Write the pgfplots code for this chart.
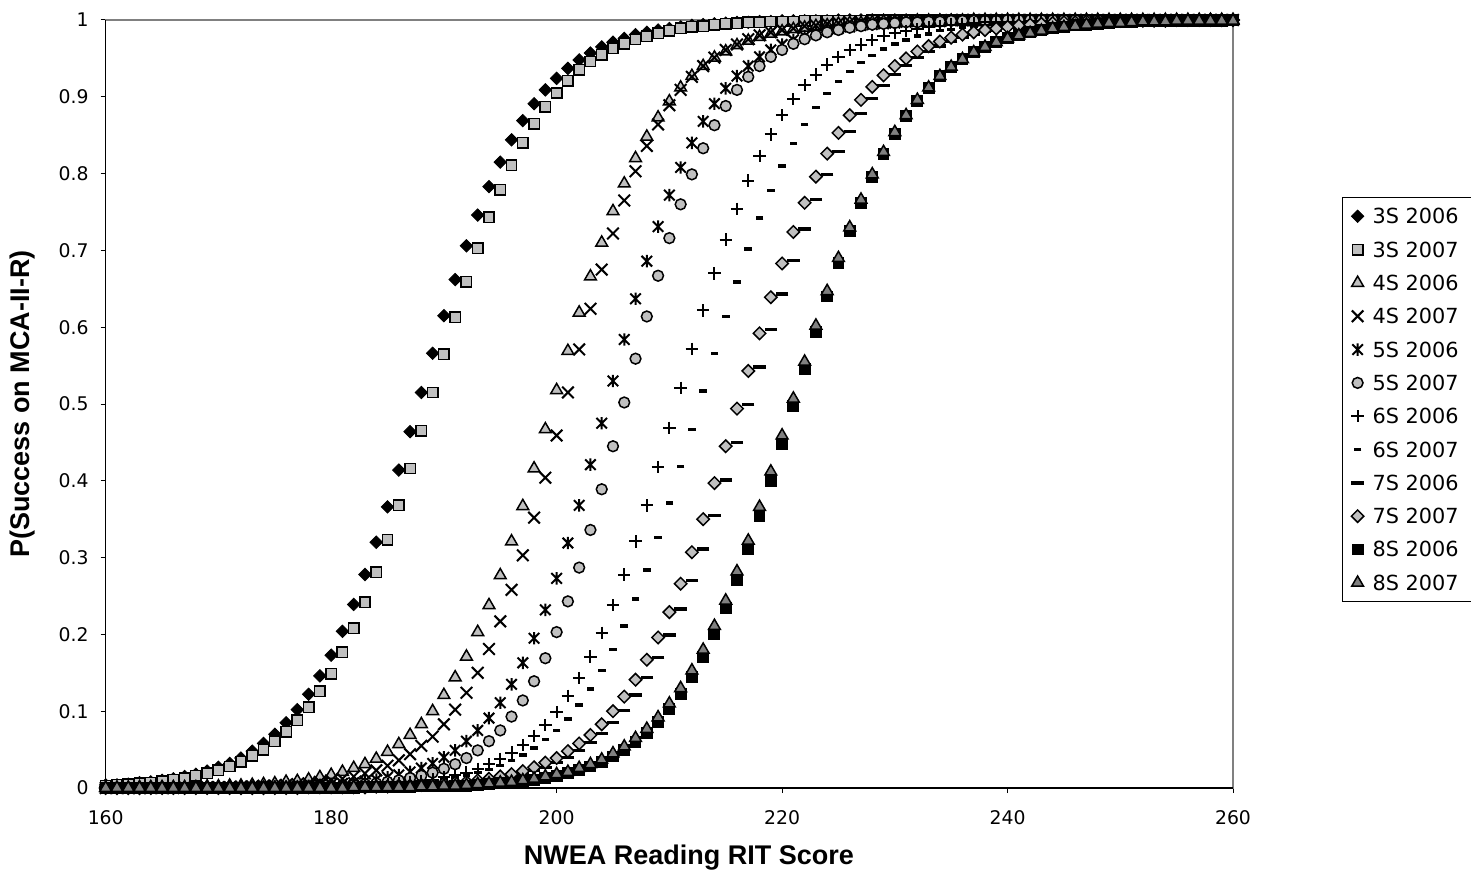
\documentclass[border=0pt]{standalone}
\usepackage{pgfplots}
\usepackage{pgfplotstable}
\pgfplotsset{compat=1.18}
\usepackage{fontspec}
\setmainfont{DejaVu Sans}
\newfontfamily\arialfont{Liberation Sans}
\definecolor{silv}{HTML}{C0C0C0}
\definecolor{dgray}{HTML}{808080}
\pgfdeclareplotmark{xast}{%
 \pgfpathmoveto{\pgfqpoint{0pt}{\pgfplotmarksize}}\pgfpathlineto{\pgfqpoint{0pt}{-\pgfplotmarksize}}%
 \pgfpathmoveto{\pgfqpoint{-.85\pgfplotmarksize}{.85\pgfplotmarksize}}\pgfpathlineto{\pgfqpoint{.85\pgfplotmarksize}{-.85\pgfplotmarksize}}%
 \pgfpathmoveto{\pgfqpoint{-.85\pgfplotmarksize}{-.85\pgfplotmarksize}}\pgfpathlineto{\pgfqpoint{.85\pgfplotmarksize}{.85\pgfplotmarksize}}%
 \pgfusepathqstroke}
\pgfplotstableread{
x s1 s2 s3 s4 s5 s6 s7 s8 s9 s10 s11 s12
160 .004 .003 0 0 0 0 0 0 0 0 0 0
161 .004 .004 0 0 0 0 0 0 0 0 0 0
162 .005 .005 0 0 0 0 0 0 0 0 0 0
163 .007 .006 .001 0 0 0 0 0 0 0 0 0
164 .008 .007 .001 0 0 0 0 0 0 0 0 0
165 .010 .009 .001 0 0 0 0 0 0 0 0 0
166 .012 .011 .001 0 0 0 0 0 0 0 0 0
167 .015 .013 .001 .001 0 0 0 0 0 0 0 0
168 .018 .016 .001 .001 0 0 0 0 0 0 0 0
169 .022 .019 .002 .001 0 0 0 0 0 0 0 0
170 .027 .023 .002 .001 .001 0 0 0 0 0 0 0
171 .032 .028 .003 .001 .001 0 0 0 0 0 0 0
172 .039 .034 .003 .002 .001 0 0 0 0 0 0 0
173 .048 .042 .004 .002 .001 .001 0 0 0 0 0 0
174 .058 .050 .005 .003 .001 .001 0 0 0 0 0 0
175 .070 .061 .006 .003 .002 .001 .001 .001 0 0 0 0
176 .085 .073 .008 .004 .002 .001 .001 .001 0 0 0 0
177 .102 .088 .009 .005 .002 .001 .001 .001 0 0 0 0
178 .122 .105 .011 .006 .003 .002 .001 .001 0 .001 0 0
179 .146 .126 .014 .008 .004 .002 .001 .001 .001 .001 0 0
180 .173 .149 .017 .010 .005 .003 .002 .002 .001 .001 0 0
181 .204 .177 .021 .012 .006 .003 .002 .002 .001 .001 0 0
182 .239 .208 .026 .015 .007 .004 .003 .002 .001 .001 0 .001
183 .278 .242 .031 .019 .009 .005 .003 .003 .001 .001 .001 .001
184 .320 .281 .038 .023 .011 .006 .004 .003 .001 .002 .001 .001
185 .366 .323 .047 .029 .014 .008 .005 .004 .002 .002 .001 .001
186 .414 .368 .057 .036 .017 .010 .006 .005 .002 .003 .001 .001
187 .464 .416 .069 .044 .021 .013 .007 .006 .003 .003 .001 .001
188 .515 .465 .083 .055 .026 .016 .009 .008 .003 .004 .002 .002
189 .566 .515 .100 .067 .032 .020 .011 .009 .004 .005 .002 .002
190 .615 .565 .121 .083 .040 .025 .014 .011 .005 .006 .002 .003
191 .662 .613 .144 .102 .049 .031 .017 .014 .006 .007 .003 .003
192 .706 .659 .171 .124 .061 .039 .020 .016 .007 .008 .003 .004
193 .746 .703 .203 .150 .075 .049 .025 .020 .009 .010 .004 .005
194 .783 .743 .238 .181 .091 .061 .031 .024 .010 .012 .005 .006
195 .815 .779 .277 .217 .111 .075 .038 .029 .013 .015 .006 .007
196 .844 .811 .321 .258 .135 .093 .046 .036 .015 .018 .007 .008
197 .869 .840 .367 .303 .163 .114 .056 .043 .019 .022 .009 .010
198 .891 .865 .416 .352 .195 .139 .068 .052 .023 .027 .011 .012
199 .909 .887 .467 .404 .232 .169 .082 .063 .027 .033 .013 .015
200 .924 .905 .518 .459 .273 .203 .099 .075 .033 .039 .016 .018
201 .937 .921 .569 .515 .319 .243 .120 .090 .040 .048 .019 .021
202 .948 .935 .619 .571 .368 .287 .143 .108 .049 .058 .023 .026
203 .957 .946 .666 .624 .421 .336 .171 .129 .059 .069 .028 .031
204 .965 .955 .710 .675 .475 .389 .202 .153 .071 .083 .034 .037
205 .971 .963 .751 .722 .530 .445 .238 .180 .085 .100 .041 .045
206 .976 .969 .787 .765 .584 .502 .278 .211 .101 .119 .050 .054
207 .981 .975 .820 .803 .637 .559 .321 .246 .121 .141 .060 .065
208 .984 .979 .848 .836 .686 .614 .368 .284 .144 .167 .072 .077
209 .987 .983 .873 .864 .731 .667 .418 .326 .170 .196 .086 .092
210 .989 .986 .894 .889 .772 .716 .469 .371 .199 .229 .103 .110
211 .991 .989 .912 .909 .808 .760 .521 .419 .233 .266 .122 .130
212 .993 .991 .927 .926 .840 .799 .572 .467 .270 .307 .145 .153
213 .994 .992 .940 .940 .868 .833 .622 .517 .311 .350 .171 .180
214 .995 .994 .951 .951 .891 .863 .670 .566 .355 .397 .200 .211
215 .996 .995 .959 .961 .911 .888 .714 .614 .401 .445 .234 .244
216 .997 .996 .967 .968 .927 .909 .754 .659 .450 .494 .271 .282
217 .997 .997 .973 .975 .940 .926 .791 .702 .499 .543 .311 .322
218 .998 .997 .978 .980 .952 .940 .823 .742 .548 .592 .354 .366
219 .998 .998 .982 .984 .961 .952 .851 .778 .597 .639 .400 .412
220 .999 .998 .985 .987 .968 .961 .876 .810 .643 .683 .448 .459
221 .999 .998 .988 .989 .974 .969 .897 .839 .687 .724 .497 .507
222 .999 .999 .990 .992 .979 .975 .915 .864 .728 .762 .546 .555
223 .999 .999 .992 .993 .983 .980 .929 .886 .766 .796 .594 .602
224 .999 .999 .993 .995 .987 .984 .942 .904 .799 .826 .640 .647
225 1 .999 .995 .996 .989 .987 .952 .920 .829 .853 .684 .690
226 1 .999 .996 .997 .991 .990 .961 .933 .855 .876 .725 .730
227 1 .999 .996 .997 .993 .992 .968 .945 .878 .896 .762 .766
228 1 1 .997 .998 .994 .994 .974 .954 .898 .913 .796 .799
229 1 1 .998 .998 .995 .995 .979 .962 .915 .928 .826 .828
230 1 1 .998 .999 .996 .996 .983 .969 .929 .940 .852 .854
231 1 1 .998 .999 .997 .997 .986 .974 .941 .950 .875 .876
232 1 1 .999 .999 .998 .997 .988 .979 .951 .959 .895 .896
233 1 1 .999 .999 .998 .998 .991 .982 .959 .966 .912 .912
234 1 1 .999 .999 .998 .998 .992 .986 .966 .972 .927 .927
235 1 1 .999 1 .999 .999 .994 .988 .972 .977 .939 .939
236 1 1 .999 1 .999 .999 .995 .990 .977 .981 .949 .949
237 1 1 1 1 .999 .999 .996 .992 .981 .984 .958 .958
238 1 1 1 1 .999 .999 .997 .993 .985 .987 .965 .965
239 1 1 1 1 1 .999 .997 .995 .987 .989 .971 .971
240 1 1 1 1 1 1 .998 .996 .990 .991 .976 .976
241 1 1 1 1 1 1 .998 .996 .991 .993 .980 .980
242 1 1 1 1 1 1 .999 .997 .993 .994 .984 .983
243 1 1 1 1 1 1 .999 .998 .994 .995 .987 .986
244 1 1 1 1 1 1 .999 .998 .995 .996 .989 .989
245 1 1 1 1 1 1 .999 .998 .996 .997 .991 .991
246 1 1 1 1 1 1 .999 .999 .997 .997 .993 .992
247 1 1 1 1 1 1 .999 .999 .997 .998 .994 .994
248 1 1 1 1 1 1 1 .999 .998 .998 .995 .995
249 1 1 1 1 1 1 1 .999 .998 .999 .996 .996
250 1 1 1 1 1 1 1 .999 .999 .999 .997 .996
251 1 1 1 1 1 1 1 .999 .999 .999 .997 .997
252 1 1 1 1 1 1 1 1 .999 .999 .998 .998
253 1 1 1 1 1 1 1 1 .999 .999 .998 .998
254 1 1 1 1 1 1 1 1 .999 .999 .998 .998
255 1 1 1 1 1 1 1 1 .999 1 .999 .999
256 1 1 1 1 1 1 1 1 1 1 .999 .999
257 1 1 1 1 1 1 1 1 1 1 .999 .999
258 1 1 1 1 1 1 1 1 1 1 .999 .999
259 1 1 1 1 1 1 1 1 1 1 .999 .999
260 1 1 1 1 1 1 1 1 1 1 1 .999
}\datatable
\begin{document}
\begin{tikzpicture}
\path[use as bounding box] (0,0) rectangle (735.5pt,437pt);
\begin{axis}[
  at={(52.85pt,43pt)}, anchor=south west,
  scale only axis, width=563.65pt, height=384pt,
  xmin=160, xmax=260, ymin=0, ymax=1,
  clip=false,
  xtick={160,180,200,220,240,260},
  xticklabels={160,180,200,220,240,260},
  ytick={0,0.1,0.2,0.3,0.4,0.5,0.6,0.7,0.8,0.9,1},
  yticklabels={0,0.1,0.2,0.3,0.4,0.5,0.6,0.7,0.8,0.9,1},
  tick align=outside, tick pos=left, major tick length=2.5pt,
  tick style={black, line width=0.5pt},
  ticklabel style={font=\fontsize{9.4}{11}\selectfont},
  yticklabel style={xshift=-2.5pt},
  xticklabel style={yshift=-5pt},
  axis line style={draw=dgray, line width=0.7pt},
  xlabel={NWEA Reading RIT Score},
  ylabel={P(Success on MCA-II-R)},
  label style={font=\arialfont\bfseries\fontsize{13.5}{15}\selectfont},
  xlabel style={at={(axis description cs:0.5174,-0.0911)}, anchor=center},
  ylabel style={at={(axis description cs:-0.0742,0.5)}, anchor=center},
  legend style={at={(axis description cs:1.0967,0.7695)}, anchor=north west,
    draw=black, line width=0.6pt, inner xsep=3.5pt, inner ysep=1pt,
    font=\fontsize{10.4}{12}\selectfont,
    nodes={text height=7.5pt, text depth=0pt, inner ysep=4.58pt, inner xsep=3.5pt},
    row sep=0pt},
  legend cell align=left,
  legend image code/.code={\path[draw=none,fill=none] (-4pt,-4pt) rectangle (4pt,4pt); \draw[#1] plot coordinates {(0pt,0pt)};},
]
\draw[black, line width=0.6pt] (rel axis cs:0,1) -- (rel axis cs:0,0) -- (rel axis cs:1,0);
\addplot[only marks, mark=square*, mark size=2.2pt, mark options={rotate=45, fill=black, draw=black, line width=0.4pt}] table[x=x,y=s1] {\datatable};
\addlegendentry{3S 2006}
\addplot[only marks, mark=square*, mark size=2.6pt, mark options={fill=silv, draw=black, line width=0.75pt}] table[x=x,y=s2] {\datatable};
\addlegendentry{3S 2007}
\addplot[only marks, mark=triangle*, mark size=3.4pt, mark options={fill=silv, draw=black, line width=0.75pt}] table[x=x,y=s3] {\datatable};
\addlegendentry{4S 2006}
\addplot[only marks, mark=x, mark size=4.1pt, mark options={draw=black, line width=1pt}] table[x=x,y=s4] {\datatable};
\addlegendentry{4S 2007}
\addplot[only marks, mark=xast, mark size=3.1pt, mark options={draw=black, line width=1pt}] table[x=x,y=s5] {\datatable};
\addlegendentry{5S 2006}
\addplot[only marks, mark=*, mark size=2.7pt, mark options={fill=silv, draw=black, line width=0.75pt}] table[x=x,y=s6] {\datatable};
\addlegendentry{5S 2007}
\addplot[only marks, mark=+, mark size=3.1pt, mark options={draw=black, line width=1pt}] table[x=x,y=s7] {\datatable};
\addlegendentry{6S 2006}
\addplot[only marks, mark=-, mark size=1.9pt, mark options={draw=black, line width=1.7pt}] table[x=x,y=s8] {\datatable};
\addlegendentry{6S 2007}
\addplot[only marks, mark=-, mark size=3.1pt, mark options={draw=black, line width=1.7pt}] table[x=x,y=s9] {\datatable};
\addlegendentry{7S 2006}
\addplot[only marks, mark=square*, mark size=2.2pt, mark options={rotate=45, fill=silv, draw=black, line width=0.75pt}] table[x=x,y=s10] {\datatable};
\addlegendentry{7S 2007}
\addplot[only marks, mark=square*, mark size=2.6pt, mark options={fill=black, draw=black, line width=0.75pt}] table[x=x,y=s11] {\datatable};
\addlegendentry{8S 2006}
\addplot[only marks, mark=triangle*, mark size=3.4pt, mark options={fill=dgray, draw=black, line width=0.75pt}] table[x=x,y=s12] {\datatable};
\addlegendentry{8S 2007}
\end{axis}
\end{tikzpicture}
\end{document}
